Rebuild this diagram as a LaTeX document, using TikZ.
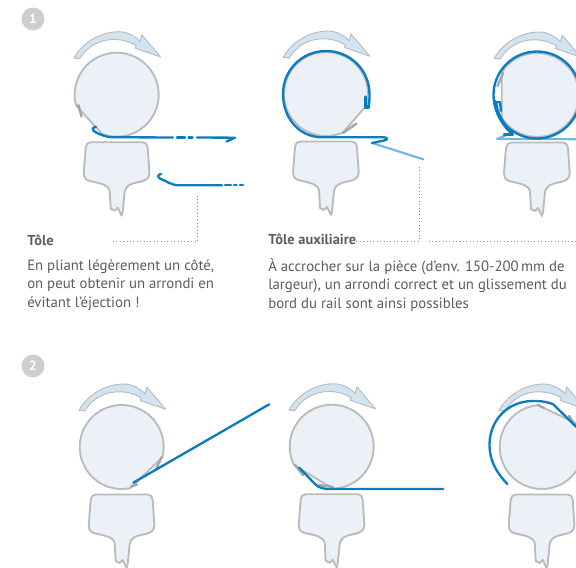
\documentclass[tikz,border=0pt]{standalone}
\usepackage{fontspec}
\setmainfont{PT Sans}
\usepackage{tikz}
\usetikzlibrary{arrows.meta,positioning,calc}
\definecolor{Sheet}{HTML}{0A7DC2}
\definecolor{SheetLight}{HTML}{70B9E3}
\definecolor{Face}{HTML}{EBF1F7}
\definecolor{Rim}{HTML}{B9BBBC}
\definecolor{Lip}{HTML}{A3A5A6}
\definecolor{Swing}{HTML}{D2E4F0}
\definecolor{Mark}{HTML}{CDCFCF}
\definecolor{Ink}{HTML}{5A5C5E}
\definecolor{Dots}{HTML}{8A8C8D}

\begin{document}
\begin{tikzpicture}[
  x=0.75pt,y=0.75pt,
  rollface/.style={draw=Rim,fill=Face,line width=1.4pt,line join=round},
  swingarrow/.style={draw=Rim,fill=Swing,line width=0.7pt,line join=round},
  sheet/.style={draw=Sheet,line width=1.75pt,line cap=round,line join=round},
  sheetlight/.style={draw=SheetLight,line width=1.6pt,line cap=round,line join=round},
  lip/.style={draw=Lip,line width=1.8pt,line cap=round},
  leader/.style={draw=Dots,dotted,line width=0.55pt},
  stepmark/.style={circle,fill=Mark,text=white,minimum size=17.2pt,inner sep=0pt,font=\bfseries\fontsize{10}{10}\selectfont},
  headtext/.style={anchor=base west,inner sep=0pt,text=Ink,font=\bfseries\fontsize{10.8}{12}\selectfont},
  bodytext/.style={anchor=north west,inner sep=0pt,text=Ink,align=left,font=\fontsize{11.1}{13.9}\selectfont},
  pics/rollunit/.style 2 args={code={
    \draw[swingarrow] (-42.7,36.7) .. controls (-33,54) and (-14,63) .. (2,63)
      .. controls (10,63) and (18,59) .. (23.5,53) -- (25,60) -- (44,37.7) -- (18.5,46.5) -- (19.5,49)
      .. controls (6,58) and (-22,60) .. (-37,36) -- cycle;
    \path[rollface] (#2:42) arc[start angle=#2,end angle=#1+360,radius=31.5pt] -- cycle;
    \path[rollface] (-26,-47.5) -- (26,-47.5) .. controls (29,-47.5) and (31,-50) .. (31,-53)
      -- (32.7,-78) .. controls (33,-84) and (28,-86) .. (24,-87)
      .. controls (12,-89) and (9,-92) .. (8,-97) -- (6,-117) -- (5,-121) -- (1,-113) -- (-2,-116) -- (-6,-114)
      -- (-7,-96) .. controls (-8,-91) and (-14,-89) .. (-24,-87)
      .. controls (-30,-86) and (-33,-84) .. (-33,-78) -- (-31,-53) .. controls (-31,-50) and (-29,-47.5) .. (-26,-47.5) -- cycle;
  }}
]
\useasboundingbox (0,0) rectangle (576,-568);
\clip (0,0) rectangle (576,-568);

% first row
\node[stepmark] (markone) at (33,-19) {1};
\pic at (116.7,-94.7) {rollunit={195}{250}};
\pic at (326,-94) {rollunit={294}{344}};
\pic at (537,-95) {rollunit={147}{213}};

\draw[lip] (78.3,-105) -- (81.5,-116.5);
\draw[lip] (343,-133) -- (356.5,-123.5);
\draw[lip] (503,-73) -- (497.5,-86);

% loose sheet
\draw[sheet] (96,-127) .. controls (91,-127) and (92,-131) .. (97,-133) .. controls (102,-135) and (106,-137) .. (112,-137.2) -- (173,-137.5);
\draw[sheet] (177,-137.5) -- (185,-137.5);
\draw[sheet] (188.5,-137.5) -- (192.5,-137.5);
\draw[sheet] (197,-137.5) -- (235,-137.7) -- (226.5,-141.5);
\draw[sheet] (161,-174) .. controls (157,-174.5) and (157.5,-178) .. (161,-179) .. controls (167,-181) and (170,-185.2) .. (180,-185.3) -- (222,-185.2);
\draw[sheet] (225,-185.2) -- (231,-185.2);
\draw[sheet] (234,-185.2) -- (236.5,-185.2);
\draw[sheet] (240,-185.2) -- (243,-185.2);

% sheet hooked on the roll
\draw[sheetlight] (372,-143) -- (423.3,-159.3);
\draw[sheet] (322,-137.3) .. controls (298,-137) and (283,-117) .. (283,-94)
  .. controls (283,-70) and (302,-51) .. (326,-51) .. controls (350,-51) and (369.5,-70) .. (369.5,-94)
  .. controls (369.5,-98) and (369.5,-103) .. (368.5,-107);
\draw[sheet,line width=2.4pt] (368.5,-107) -- (365.5,-107) -- (365.5,-97);
\draw[sheet] (322,-137.3) -- (384,-137.3) .. controls (388,-137.5) and (388,-140) .. (384,-140.5) -- (372,-143);

\draw[sheetlight] (576,-139.2) -- (497,-139) -- (506.5,-135);
\draw[sheet] (537,-95) circle[radius=43.5pt*0.75];
\draw[sheet,line width=2.8pt] (495.5,-102) .. controls (496,-112) and (502,-124) .. (512,-133);
\draw[sheet] (495.5,-102) -- (500,-102) -- (501,-111);
\draw[sheet] (504,-134.5) -- (513,-134.5);

% second row
\node[stepmark] (marktwo) at (33,-366) {2};
\pic at (121.7,-447) {rollunit={282}{346}};
\pic at (331.7,-446.7) {rollunit={206}{272}};
\pic at (541.7,-447) {rollunit={34}{95}};

\draw[lip] (161.7,-457) -- (156,-469);
\draw[lip] (131,-486.5) -- (137,-484.5);
\draw[lip] (295,-465) -- (303,-475);
\draw[lip] (319,-485) -- (333,-487);
\draw[lip] (575,-425) -- (569,-416);
\draw[lip] (538,-405) -- (544,-408);

\draw[sheet] (269.3,-404.3) -- (133.3,-482.7);
\draw[sheet] (299.3,-467.7) -- (314,-483) .. controls (318,-487.5) and (322,-489) .. (330,-489) -- (443.3,-489);
\draw[sheet] (507.3,-484) .. controls (495,-471) and (489.5,-459) .. (489.5,-445)
  .. controls (489.5,-420) and (508,-401) .. (533,-401) .. controls (542,-401) and (548,-402) .. (553.3,-404.3) -- (576,-426.7);

% captions
\node[headtext] (toletitle) at (27,-245) {Tôle};
\node[bodytext] (toletext) at (27,-259) {En pliant légèrement un côté,\\on peut obtenir un arrondi en\\évitant l'éjection !};
\node[headtext] (auxtitle) at (268,-244) {Tôle auxiliaire};
\node[bodytext] (auxtext) at (268,-258) {À accrocher sur la pièce (d'env. 150-200\,mm de\\largeur), un arrondi correct et un glissement du\\bord du rail sont ainsi possibles};

\coordinate (toleup) at (197,-195);
\coordinate (auxup) at (419,-165);
\draw[leader] (113,-241.5) -| (toleup);
\draw[leader] (auxtitle.base east |- 0,-241) -| (auxup);
\draw[leader] (429,-241) -- (576,-241);
\end{tikzpicture}
\end{document}
